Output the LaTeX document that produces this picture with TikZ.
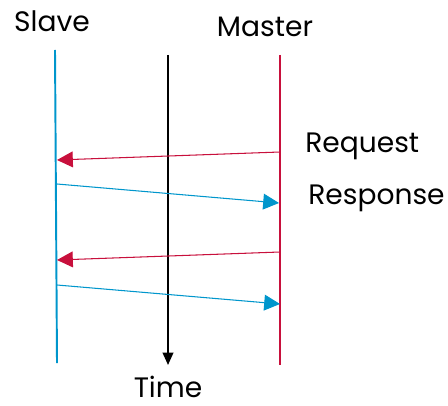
\documentclass[tikz,border=0pt]{standalone}
\usepackage{fontspec}
\setmainfont{Poppins}
\usepackage{tikz}
\usepackage{xcolor}
\usetikzlibrary{arrows.meta, positioning}

\definecolor{slaveblue}{RGB}{0,150,204}
\definecolor{masterred}{RGB}{200,16,60}

\tikzset{
    lifeline/.style={line width=1.1pt},
    msg/.style={line width=0.6pt, -{Triangle[length=9pt, width=9pt]}},
    lbl/.style={font=\fontsize{16}{18}\selectfont, inner sep=0pt}
}

\begin{document}
\begin{tikzpicture}[x=0.02cm, y=-0.02cm]
                        \useasboundingbox (0, 0) rectangle (448, 405);
                        \node[lbl] (slave) at (52, 21) {Slave};
                        \node[lbl] (master) at (265, 27) {Master};
                        \node[lbl, anchor=base, text depth=0pt] (time) at (168, 397) {Time};
                        \coordinate (s0) at (55, 50);
                        \coordinate (s1) at (57, 363);
                        \coordinate (t0) at (168, 55);
                        \coordinate (t1) at (168, 365);
                        \coordinate (m0) at (280, 55);
                        \coordinate (m1) at (280, 365);
                        \draw[lifeline, slaveblue] (s0) -- (s1);
                        \draw[lifeline, masterred] (m0) -- (m1);
                        \draw[lifeline, -{Triangle[length=7pt, width=6pt]}] (t0) -- (t1);
                        % requests and responses
                        \coordinate (rq1) at (280, 152);
                        \coordinate (rq1e) at (57, 160);
                        \coordinate (rs1) at (57, 184);
                        \coordinate (rs1e) at (279, 203);
                        \coordinate (rq2) at (280, 252);
                        \coordinate (rq2e) at (57, 260);
                        \coordinate (rs2) at (57, 285);
                        \coordinate (rs2e) at (280, 304);
                        \draw[msg, masterred] (rq1) -- (rq1e);
                        \draw[msg, slaveblue] (rs1) -- (rs1e);
                        \draw[msg, masterred] (rq2) -- (rq2e);
                        \draw[msg, slaveblue] (rs2) -- (rs2e);
                        \node[lbl, anchor=west] (request) at (305, 146) {Request};
                        \node[lbl, anchor=west] (response) at (308, 198) {Response};
                    \end{tikzpicture}
\end{document}
